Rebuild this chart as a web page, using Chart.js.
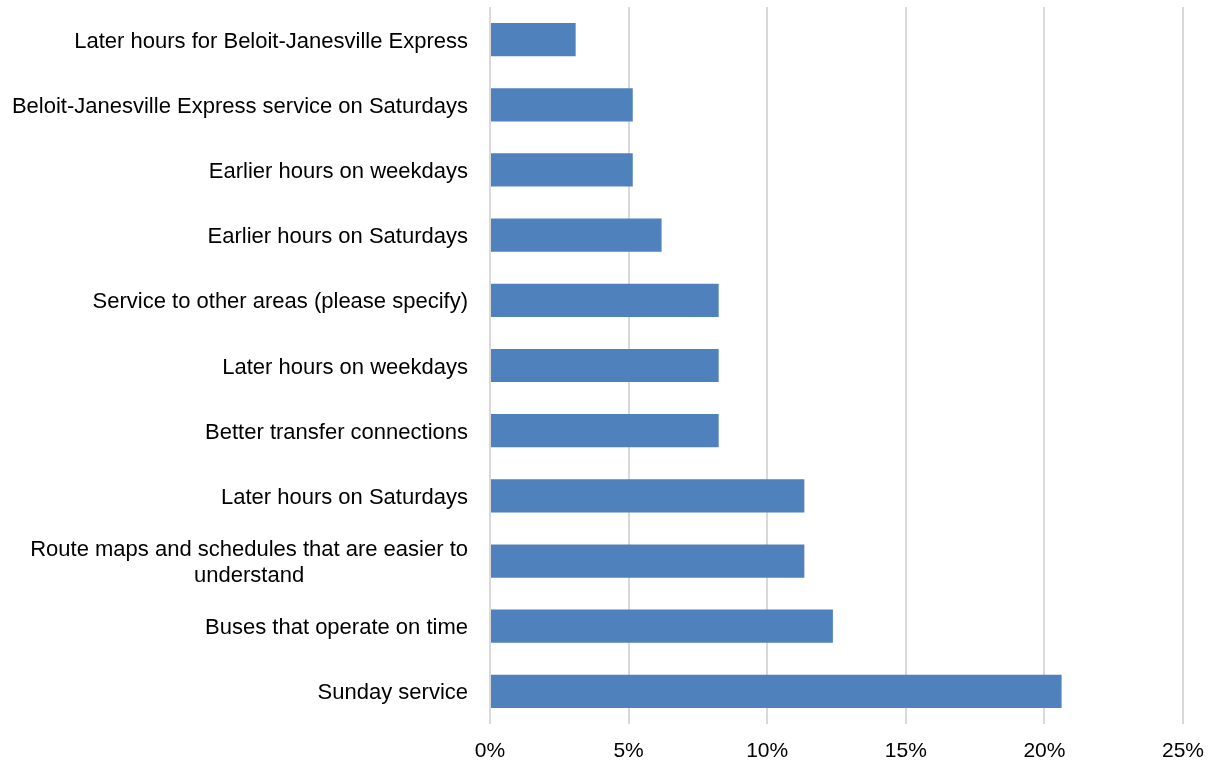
<!DOCTYPE html>
<html>
<head>
<meta charset="utf-8">
<script src="https://cdn.jsdelivr.net/npm/chart.js@4"></script>
<style>
  html, body { margin: 0; padding: 0; background: #fff; }
  #wrap { width: 1211px; height: 766px; }
</style>
</head>
<body>
<div id="wrap"><canvas id="barChart" width="1211" height="766"></canvas></div>
<script>
// Improvements wanted, share of responses (%)
const categories = [
  "Later hours for Beloit-Janesville Express",
  "Beloit-Janesville Express service on Saturdays",
  "Earlier hours on weekdays",
  "Earlier hours on Saturdays",
  "Service to other areas (please specify)",
  "Later hours on weekdays",
  "Better transfer connections",
  "Later hours on Saturdays",
  ["Route maps and schedules that are easier to", "understand"],
  "Buses that operate on time",
  "Sunday service"
];
const shares = [3.09, 5.15, 5.15, 6.19, 8.25, 8.25, 8.25, 11.34, 11.34, 12.37, 20.62];
const xTicks = [0, 5, 10, 15, 20, 25];

const FONT = "'Liberation Sans', Arial, sans-serif";
const LABEL_RIGHT = 468;

// Category labels drawn centred line-by-line, right edge flush with the axis gap
const catLabels = {
  id: "catLabels",
  afterDraw(chart) {
    const y = chart.scales.y;
    const c = chart.ctx;
    c.save();
    c.font = "22px " + FONT;
    c.fillStyle = "#000";
    c.textBaseline = "middle";
    c.textAlign = "center";
    categories.forEach((lab, i) => {
      const lines = Array.isArray(lab) ? lab : [lab];
      const w = Math.max(...lines.map(l => c.measureText(l).width));
      const cx = LABEL_RIGHT - w / 2;
      const py = y.getPixelForTick(i) + 2;
      const lh = 26;
      lines.forEach((l, k) => {
        c.fillText(l, cx, py + (k - (lines.length - 1) / 2) * lh);
      });
    });
    c.restore();
  }
};

new Chart(document.getElementById("barChart"), {
  type: "bar",
  data: {
    labels: categories,
    datasets: [{
      data: shares,
      backgroundColor: "#4f81bd",
      borderWidth: 0,
      categoryPercentage: 1,
      barPercentage: 0.51
    }]
  },
  options: {
    indexAxis: "y",
    responsive: false,
    animation: false,
    layout: { padding: { top: 7, right: 28, left: 0, bottom: 0 } },
    plugins: {
      legend: { display: false },
      tooltip: { enabled: false }
    },
    scales: {
      x: {
        min: 0,
        max: 25,
        afterBuildTicks(scale) { scale.ticks = xTicks.map(v => ({ value: v })); },
        afterFit(scale) {
          scale.height = 42;
          scale.paddingLeft = 0;
          scale.paddingRight = 0;
        },
        border: { display: false },
        grid: { color: "#d9d9d9", lineWidth: 2, drawTicks: false },
        ticks: {
          padding: 15,
          color: "#000",
          font: { family: FONT, size: 21 },
          callback: v => v + "%"
        }
      },
      y: {
        afterFit(scale) { scale.width = 490; },
        border: { display: false },
        grid: { display: false },
        ticks: { display: false }
      }
    }
  },
  plugins: [catLabels]
});
</script>
</body>
</html>
